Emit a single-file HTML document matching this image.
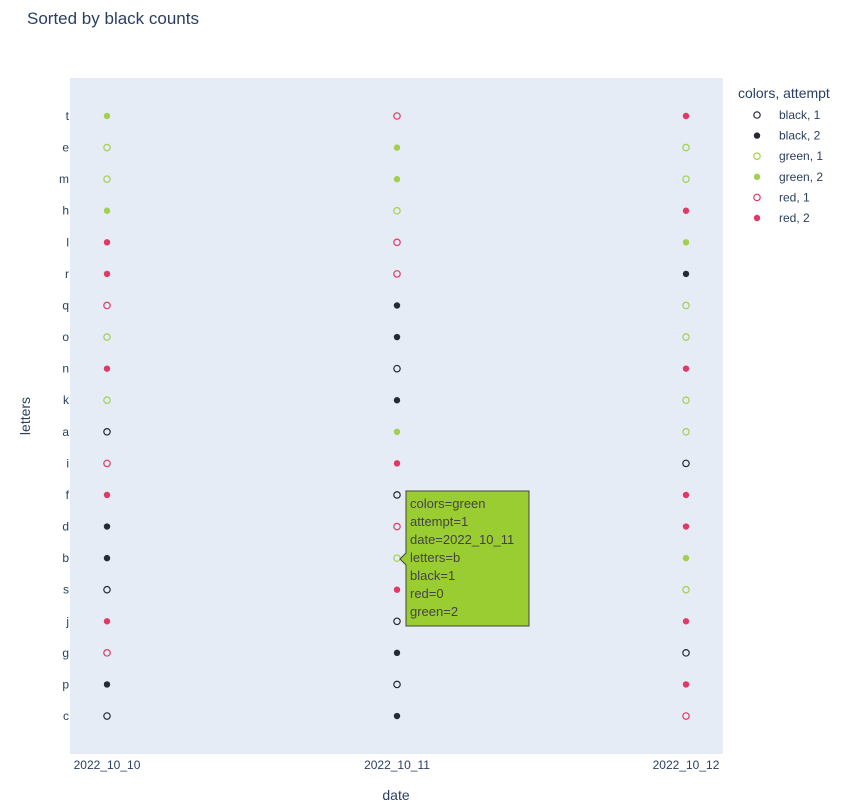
<!DOCTYPE html>
<html><head><meta charset="utf-8"><style>body{margin:0;background:#fff}svg{display:block;font-family:"Liberation Sans",sans-serif}</style></head>
<body>
<svg id="s" width="854" height="809" xmlns="http://www.w3.org/2000/svg">
<rect x="70" y="78" width="653" height="676" fill="#e5ecf6"/>
<text x="27" y="24" font-size="17" fill="#2a3f5f">Sorted by black counts</text>
<text x="396" y="800" font-size="14" fill="#2a3f5f" text-anchor="middle">date</text>
<text transform="translate(30,416) rotate(-90)" font-size="14" fill="#2a3f5f" text-anchor="middle">letters</text>
<g font-size="12" fill="#2a3f5f" text-anchor="middle">
<text x="107" y="769">2022_10_10</text><text x="397" y="769">2022_10_11</text><text x="686" y="769">2022_10_12</text></g>
<g id="pts"></g>
<g font-size="14" fill="#2a3f5f"><text x="738" y="98">colors, attempt</text></g>
<g id="leg" font-size="12" fill="#2a3f5f"></g>
<path d="M406,491 H529 V626 H406 V565 L400,559 L406,553 Z" fill="#9acd32" stroke="#444" stroke-width="1"/>
<g font-size="13" fill="#444"><text x="410" y="508">colors=green</text><text x="410" y="526">attempt=1</text><text x="410" y="544">date=2022_10_11</text><text x="410" y="562">letters=b</text><text x="410" y="580">black=1</text><text x="410" y="598">red=0</text><text x="410" y="616">green=2</text></g>
</svg>
<script>
var rows="temhlrqonkaifdbsjgpc".split("");
var cols=[[107,"g2 g1 g1 g2 r2 r2 r1 g1 r2 g1 b1 r1 r2 b2 b2 b1 r2 r1 b2 b1"],[397,"r1 g2 g2 g1 r1 r1 b2 b2 b1 b2 g2 r2 b1 r1 g1 r2 b1 b2 b1 b2"],[686,"r2 g1 g1 r2 g2 b2 g1 g1 r2 g1 g1 b1 r2 r2 g2 g1 r2 b1 r2 r1"]];
var C={b:"#262a33",g:"#a3cf4f",r:"#df3a65"};
function m(x,y,k){var c=C[k[0]];return k[1]=="1"?'<circle cx="'+x+'" cy="'+y+'" r="3.2" fill="none" stroke="'+c+'" stroke-width="1.2"/>':'<circle cx="'+x+'" cy="'+y+'" r="3.2" fill="'+c+'"/>';}
var h="";rows.forEach(function(r,i){var y=116+i*31.58;h+='<text x="69" y="'+(y+4)+'" font-size="12" fill="#2a3f5f" text-anchor="end">'+r+'</text>';});
cols.forEach(function(c){c[1].split(" ").forEach(function(k,i){h+=m(c[0],116+i*31.58,k);});});
document.getElementById("pts").innerHTML=h;
var L=["b1","b2","g1","g2","r1","r2"],N={b:"black",g:"green",r:"red"},l="";
L.forEach(function(k,i){var y=115+i*20.6;l+=m(757,y,k)+'<text x="779" y="'+(y+4)+'">'+N[k[0]]+', '+k[1]+'</text>';});
document.getElementById("leg").innerHTML=l;
</script>
</body></html>
